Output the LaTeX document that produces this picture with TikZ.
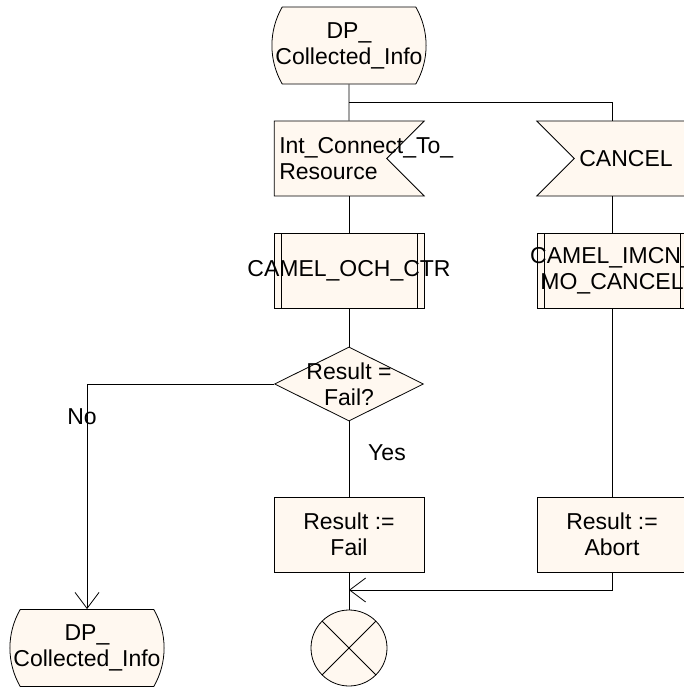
\documentclass[tikz,border=0pt]{standalone}
\usepackage{fontspec}
\setmainfont{Liberation Sans}
\usetikzlibrary{shapes.misc, shapes.geometric, shapes.symbols, arrows.meta}
\definecolor{sdlfill}{RGB}{255,248,240}

\begin{document}
\begin{tikzpicture}[x = 1pt, y = -1pt, line width = 0.8pt,
  font = \fontsize{23}{26}\selectfont,
  sdlbox/.style = {draw = black, fill = sdlfill, inner sep = 0pt, align = center},
  sdlstate/.style = {sdlbox, rounded rectangle, rounded rectangle arc length = 60, minimum width = 152pt, minimum height = 77pt},
  sdltask/.style = {sdlbox, rectangle, minimum width = 150pt, minimum height = 75pt},
  sdlproc/.style = {sdltask, path picture = {
    \draw ([xshift = 7pt] path picture bounding box.north west) -- ([xshift = 7pt] path picture bounding box.south west);
    \draw ([xshift = -7pt] path picture bounding box.north east) -- ([xshift = -7pt] path picture bounding box.south east);}},
  sdlinput/.style = {sdlbox, signal, signal to = nowhere, signal from = #1, minimum width = 150pt, minimum height = 75pt},
  sdlchoice/.style = {sdlbox, diamond, minimum width = 149pt, minimum height = 74pt},
  sdlstop/.style = {sdlbox, circle, minimum size = 76pt, path picture = {
    \draw (path picture bounding box.north west) -- (path picture bounding box.south east);
    \draw (path picture bounding box.north east) -- (path picture bounding box.south west);}},
  sdltext/.style = {draw = none, fill = none, inner sep = 0pt, align = center},
  overtext/.style = {label = {[sdltext]center:#1}},
  sdlflow/.style = {-{Straight Barb[length = 16pt, width = 24pt]}}
]
\useasboundingbox (0, 0) rectangle (684, 691);

% left branch
\node [sdlstate] (start) at (349, 45.5) {DP\_\\Collected\_Info};
\node [sdlinput = east, label = {[sdltext, anchor = west, align = left, xshift = 5pt]west:{Int\_Connect\_To\_\\Resource}}] (connect) at (330.5, 158.5) {};
\node [sdlproc, overtext = {CAMEL\_OCH\_CTR}] (och) at (349, 270.5) {};
\node [sdlchoice, overtext = {Result =\\Fail?}] (check) at (349, 384) {};
\node [sdltask] (fail) at (349, 534.5) {Result :=\\Fail};
\node [sdlstop] (stop) at (349, 648) {};
\node [sdlstate] (dpinfo) at (87, 648) {DP\_\\Collected\_Info};

% right branch
\node [sdlinput = west, label = {[sdltext, xshift = -4.5pt]center:CANCEL}] (cancel) at (630.5, 158.5) {};
\node [sdlproc, overtext = {CAMEL\_IMCN\_\\MO\_CANCEL}] (imcn) at (612, 270.5) {};
\node [sdltask] (abort) at (612, 534.5) {Result :=\\Abort};

\node [sdltext] (yes) at (387, 453) {Yes};
\node [sdltext] (no) at (82, 417) {No};

\coordinate (fork) at (349, 102);
\coordinate (merge) at (349, 590);

\path [draw] (start) -- (start |- connect.north);
\path [draw] (fork) -| (cancel.north -| imcn);
\path [draw] (connect.south -| och) -- (och);
\path [draw] (och) -- (check);
\path [draw] (check) -- (fail);
\path [draw, sdlflow] (check) -| (dpinfo);
\path [draw] (fail) -- (stop);

\path [draw] (cancel.south -| imcn) -- (imcn);
\path [draw] (imcn) -- (abort);
\path [draw, sdlflow] (abort) |- (merge);

\end{tikzpicture}
\end{document}
